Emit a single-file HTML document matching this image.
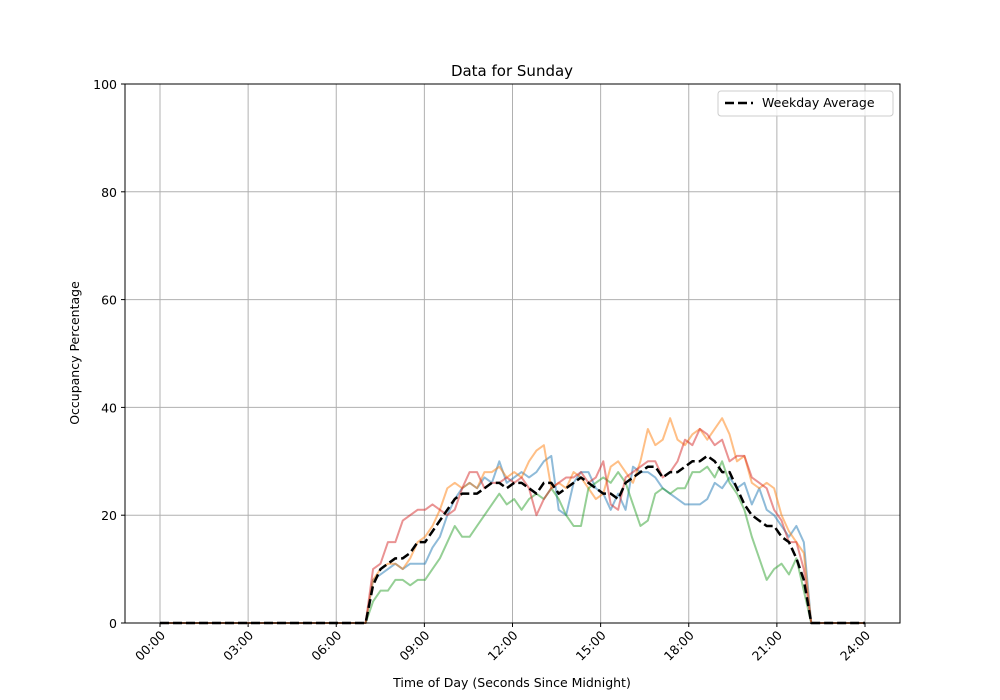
<!DOCTYPE html>
<html><head><meta charset="utf-8"><style>
html,body{margin:0;padding:0;background:#fff;}
svg{display:block;font-family:"DejaVu Sans","Liberation Sans",sans-serif;}
</style></head><body>
<svg id="s" width="1000" height="700" viewBox="0 0 1000 700">
<rect width="1000" height="700" fill="#fff"/>
<g id="grid" stroke="#b0b0b0" stroke-width="1"></g>
<g id="series" fill="none" stroke-width="2" stroke-linejoin="round"></g>
<rect x="125" y="84" width="775" height="539" fill="none" stroke="#000" stroke-width="1"/>
<g id="ticks" font-size="12.5" fill="#000"></g>
<text x="512" y="76" font-size="15" text-anchor="middle">Data for Sunday</text>
<text x="512" y="687" font-size="12.5" text-anchor="middle">Time of Day (Seconds Since Midnight)</text>
<text transform="translate(79,353) rotate(-90)" font-size="12.5" text-anchor="middle">Occupancy Percentage</text>
<rect x="718" y="91" width="175" height="25" rx="3" fill="#fff" fill-opacity="0.8" stroke="#ccc"/>
<line x1="725" y1="103" x2="753" y2="103" stroke="#000" stroke-width="2.5" stroke-dasharray="9,4"/>
<text x="762" y="107" font-size="12.5">Weekday Average</text>
</svg>
<script>
var NS="http://www.w3.org/2000/svg";
function X(h){return 160+h*29.375;}
function Y(v){return 623-v*5.39;}
function el(t,a,p){var e=document.createElementNS(NS,t);for(var k in a)e.setAttribute(k,a[k]);p.appendChild(e);return e;}
var g=document.getElementById('grid'),tk=document.getElementById('ticks');
for(var h=0;h<=24;h+=3){var x=X(h);el('line',{x1:x,y1:84,x2:x,y2:623},g);
el('line',{x1:x,y1:623,x2:x,y2:627,stroke:'#000'},tk);
var t=el('text',{x:0,y:0,'text-anchor':'end',transform:'translate('+(x+6)+',636) rotate(-45)'},tk);t.textContent=(h<10?'0':'')+h+':00';}
for(var v=0;v<=100;v+=20){var y=Y(v);el('line',{x1:125,y1:y,x2:900,y2:y},g);
el('line',{x1:121,y1:y,x2:125,y2:y,stroke:'#000'},tk);
var t=el('text',{x:117,y:y+5,'text-anchor':'end'},tk);t.textContent=v;}
var D={
blue:[0,8,9,10,11,10,11,11,11,14,16,20,23,25,26,25,27,26,30,26,27,28,27,28,30,31,21,20,26,28,28,25,24,21,24,21,29,28,28,27,25,24,23,22,22,22,23,26,25,27,25,26,22,25,21,20,18,16,18,15,0],
orange:[0,8,10,11,11,10,12,15,16,18,21,25,26,25,26,25,28,28,29,27,28,27,30,32,33,25,26,25,28,27,25,23,24,29,30,28,26,30,36,33,34,38,34,33,35,36,34,36,38,35,30,31,26,25,26,25,20,17,15,13,0],
green:[0,4,6,6,8,8,7,8,8,10,12,15,18,16,16,18,20,22,24,22,23,21,23,24,23,25,23,20,18,18,25,26,27,26,28,26,22,18,19,24,25,24,25,25,28,28,29,27,30,26,24,21,16,12,8,10,11,9,12,6,0],
red:[0,10,11,15,15,19,20,21,21,22,21,20,21,25,28,28,25,26,26,27,26,27,25,20,23,25,26,27,27,28,26,27,30,22,21,27,28,29,30,30,27,28,30,34,33,36,35,33,34,30,31,31,27,26,25,21,19,15,15,10,0],
avg:[0,7,10,11,12,12,13,15,15,17,19,21,23,24,24,24,25,26,26,25,26,26,25,24,26,26,24,25,26,27,26,25,24,24,23,26,27,28,29,29,27,28,28,29,30,30,31,30,28,28,25,22,20,19,18,18,16,15,12,8,0]};
function T(i){return 7+i*(15.17/60);}
function pts(a){var p=[];for(var i=0;i<=28;i++)p.push(X(i/4)+','+Y(0));
for(var i=1;i<a.length;i++)p.push(X(T(i))+','+Y(a[i]));
for(var i=89;i<=96;i++)p.push(X(i/4)+','+Y(0));return p.join(' ');}
var sg=document.getElementById('series');
var C={blue:'#1f77b4',orange:'#ff7f0e',green:'#2ca02c',red:'#d62728'};
['blue','orange','green','red'].forEach(function(k){el('polyline',{points:pts(D[k]),stroke:C[k],'stroke-opacity':0.5},sg);});
el('polyline',{points:pts(D.avg),stroke:'#000','stroke-width':2.5,'stroke-dasharray':'9,4'},sg);
</script>
</body></html>
